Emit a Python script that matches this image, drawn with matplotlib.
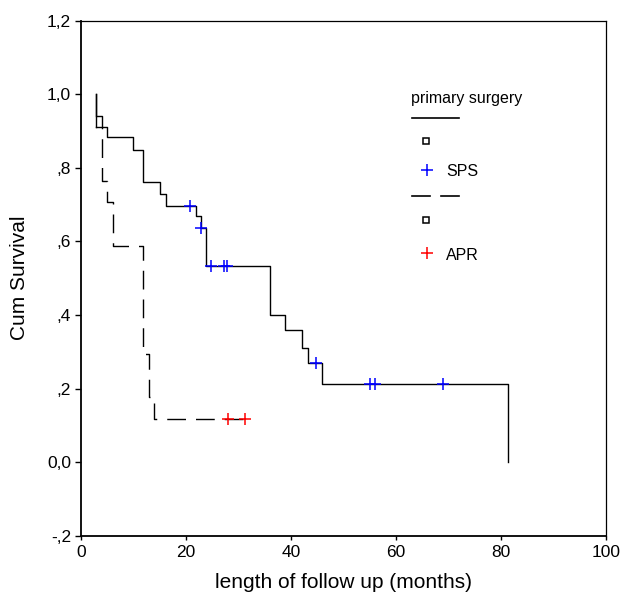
import matplotlib
matplotlib.use("Agg")
import matplotlib.pyplot as plt
from matplotlib.lines import Line2D

plt.rcParams['font.family'] = ['Liberation Sans', 'DejaVu Sans']
plt.rcParams['lines.scale_dashes'] = False

# SPS (solid) Kaplan-Meier steps
sps_time = [0, 3, 5.1, 9.9, 11.9, 15.1, 16.2, 22.0, 22.9, 23.9, 36.0, 38.9, 42.2, 43.2, 45.9, 81.3]
sps_surv = [1.0, 0.910, 0.883, 0.849, 0.762, 0.730, 0.696, 0.669, 0.636, 0.533, 0.400, 0.359, 0.311, 0.269, 0.213, 0.0]
sps_cens_t = [20.9, 22.9, 24.9, 27.2, 27.9, 44.8, 55.1, 56.1, 68.9]
sps_cens_s = [0.696, 0.636, 0.533, 0.533, 0.533, 0.269, 0.213, 0.213, 0.213]

# APR (dashed) Kaplan-Meier steps
apr_time = [0, 3, 4.1, 5.1, 6.1, 11.9, 13.0, 14.0, 31.2]
apr_surv = [1.0, 0.942, 0.765, 0.706, 0.588, 0.294, 0.176, 0.118, 0.118]
apr_cens_t = [28.0, 31.2]
apr_cens_s = [0.118, 0.118]

yticks = [-0.2, 0.0, 0.2, 0.4, 0.6, 0.8, 1.0, 1.2]
ytick_labels = ["-,2", "0,0", ",2", ",4", ",6", ",8", "1,0", "1,2"]
xticks = [0, 20, 40, 60, 80, 100]

W, H = 624, 596
fig = plt.figure(figsize=(W / 100, H / 100), dpi=100)
ax = fig.add_axes([80.7 / W, 1 - 535.7 / H, (606 - 80.7) / W, (535.7 - 20.7) / H])

# draw from t=3 (curves start at first event time)
ax.step(sps_time[1:], sps_surv[1:], where='post', color='black', lw=1.0)
ax.plot([3, 3], [1.0, sps_surv[1]], color='black', lw=1.0)
ax.step(apr_time[1:], apr_surv[1:], where='post', color='black', lw=1.0,
        linestyle=(0, (13.5, 7.2)))
ax.plot([3, 3], [1.0, apr_surv[1]], color='black', lw=1.0)

ax.plot(sps_cens_t, sps_cens_s, linestyle='none', marker='+', color='#0000ff',
        markersize=8, markeredgewidth=1.1)
ax.plot(apr_cens_t, apr_cens_s, linestyle='none', marker='+', color='#ff0000',
        markersize=8, markeredgewidth=1.1)

ax.set_xlim(0, 100)
ax.set_ylim(-0.2, 1.2)
ax.set_xticks(xticks)
ax.set_yticks(yticks)
ax.set_yticklabels(ytick_labels)
ax.tick_params(axis='both', direction='out', labelsize=12.5, width=1.0, colors='black')
ax.tick_params(axis='y', length=4, pad=3)
ax.tick_params(axis='x', length=3, pad=4)
for s in ['left', 'bottom']:
    ax.spines[s].set_linewidth(1.3)
for s in ['top', 'right']:
    ax.spines[s].set_linewidth(0.9)

ax.set_xlabel("length of follow up (months)", fontsize=15)
ax.set_ylabel("Cum Survival", fontsize=15)
ax.xaxis.set_label_coords(0.5, -0.072)
ax.yaxis.set_label_coords(-0.099, 0.5)

# Legend drawn manually (pixel coordinates converted to figure fraction)
def fx(px):
    return px / W

def fy(py):
    return 1 - py / H

fs = 11.5
fig.text(fx(410.7), fy(98.3), "primary surgery", fontsize=fs, va='center', ha='left')
fig.add_artist(Line2D([fx(411.7), fx(459.3)], [fy(118.3), fy(118.3)], color='black', lw=1.2))
fig.add_artist(Line2D([fx(426)], [fy(141)], marker='s', markersize=5, markerfacecolor='white',
                      markeredgecolor='black', markeredgewidth=1.1, linestyle='none'))
fig.add_artist(Line2D([fx(426.7)], [fy(170)], marker='+', markersize=8, color='#0000ff',
                      markeredgewidth=1.1, linestyle='none'))
fig.text(fx(446), fy(171.7), "SPS", fontsize=fs, va='center', ha='left')
fig.add_artist(Line2D([fx(411.7), fx(430)], [fy(196), fy(196)], color='black', lw=1.2))
fig.add_artist(Line2D([fx(441), fx(459.3)], [fy(196), fy(196)], color='black', lw=1.2))
fig.add_artist(Line2D([fx(426)], [fy(220)], marker='s', markersize=5, markerfacecolor='white',
                      markeredgecolor='black', markeredgewidth=1.1, linestyle='none'))
fig.add_artist(Line2D([fx(426.7)], [fy(252.7)], marker='+', markersize=8, color='#ff0000',
                      markeredgewidth=1.1, linestyle='none'))
fig.text(fx(446), fy(255), "APR", fontsize=fs, va='center', ha='left')

fig.savefig("out.png", dpi=100)
